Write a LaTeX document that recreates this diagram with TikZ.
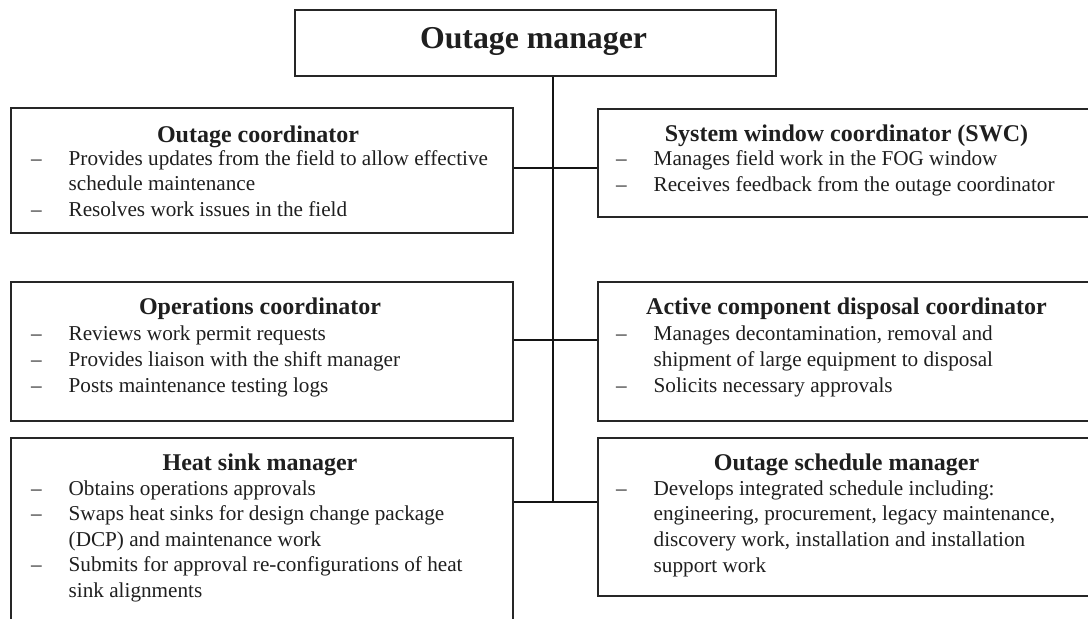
\documentclass[tikz,border=0pt]{standalone}
\usepackage{fontspec}
\setmainfont{Liberation Serif}
% one list entry: a dash, then the text at a fixed indent
\newcommand{\rolItem}[1]{\makebox[37.5pt][l]{--}#1}
% continuation line of a list entry
\newcommand{\rolCont}[1]{\hspace*{37.5pt}#1}
\begin{document}
\begin{tikzpicture}[x=1pt,y=-1pt,
  box/.style={draw=black!85, line width=1.5pt, rectangle, inner sep=0pt, anchor=north west},
  link/.style={draw=black!92, line width=1.5pt},
  head/.style={font=\fontsize{24}{28}\selectfont\bfseries, inner sep=0pt, anchor=base, text=black!88},
  body/.style={inner sep=0pt, anchor=base west, text=black!88},
  bodyfont/.style={font=\fontsize{21.2}{25.7}\selectfont},
]
\useasboundingbox (0,0) rectangle (1088,619);
\fill[white] (0,0) rectangle (1088,619);
\begin{scope}
\clip (0,0) rectangle (1088,619);

% boxes
\node[box, minimum width=481pt, minimum height=66pt] (mgr) at (294,9) {};
\node[box, minimum width=502pt, minimum height=125pt] (oc) at (10,107) {};
\node[box, minimum width=505pt, minimum height=108pt] (swc) at (597,108) {};
\node[box, minimum width=502pt, minimum height=139pt] (ops) at (10,281) {};
\node[box, minimum width=505pt, minimum height=139pt] (acd) at (597,281) {};
\node[box, minimum width=502pt, minimum height=220pt] (hs) at (10,437) {};
\node[box, minimum width=505pt, minimum height=158pt] (osm) at (597,437) {};

% trunk and branches
\coordinate (j1) at (553,168);
\coordinate (j2) at (553,340);
\coordinate (j3) at (553,502);
\draw[link] (mgr.south -| j3) -- (j3);
\draw[link] (oc.east |- j1) -- (swc.west |- j1);
\draw[link] (ops.east |- j2) -- (acd.west |- j2);
\draw[link] (hs.east |- j3) -- (osm.west |- j3);

% titles
\node[head, font=\fontsize{31.8}{36}\selectfont\bfseries] (tmgr) at (533.5,48.5) {Outage manager};
\node[head] (toc) at (258,142) {Outage coordinator};
\node[head] (tswc) at (846.5,141) {System window coordinator (SWC)};
\node[head] (tops) at (260,314) {Operations coordinator};
\node[head] (tacd) at (846.5,314) {Active component disposal coordinator};
\node[head] (ths) at (260,470) {Heat sink manager};
\node[head] (tosm) at (846.5,470) {Outage schedule manager};

% lists
\node[body] (loc) at (31,165) {\parbox[t]{520pt}{\fontsize{21.2}{25.5}\selectfont
  \rolItem{Provides updates from the field to allow effective}\\
  \rolCont{schedule maintenance}\\
  \rolItem{Resolves work issues in the field}}};
\node[body] (lswc) at (616,165.5) {\parbox[t]{520pt}{\fontsize{21.2}{25.7}\selectfont
  \rolItem{Manages field work in the FOG window}\\
  \rolItem{Receives feedback from the outage coordinator}}};
\node[body] (lops) at (31,340) {\parbox[t]{520pt}{\fontsize{21.2}{26}\selectfont
  \rolItem{Reviews work permit requests}\\
  \rolItem{Provides liaison with the shift manager}\\
  \rolItem{Posts maintenance testing logs}}};
\node[body] (lacd) at (616,340) {\parbox[t]{520pt}{\fontsize{21.2}{26}\selectfont
  \rolItem{Manages decontamination, removal and}\\
  \rolCont{shipment of large equipment to disposal}\\
  \rolItem{Solicits necessary approvals}}};
\node[body] (lhs) at (31,495) {\parbox[t]{520pt}{\fontsize{21.2}{25.5}\selectfont
  \rolItem{Obtains operations approvals}\\
  \rolItem{Swaps heat sinks for design change package}\\
  \rolCont{(DCP) and maintenance work}\\
  \rolItem{Submits for approval re-configurations of heat}\\
  \rolCont{sink alignments}}};
\node[body] (losm) at (616,495) {\parbox[t]{520pt}{\fontsize{21.2}{25.7}\selectfont
  \rolItem{Develops integrated schedule including:}\\
  \rolCont{engineering, procurement, legacy maintenance,}\\
  \rolCont{discovery work, installation and installation}\\
  \rolCont{support work}}};
\end{scope}
\end{tikzpicture}
\end{document}
